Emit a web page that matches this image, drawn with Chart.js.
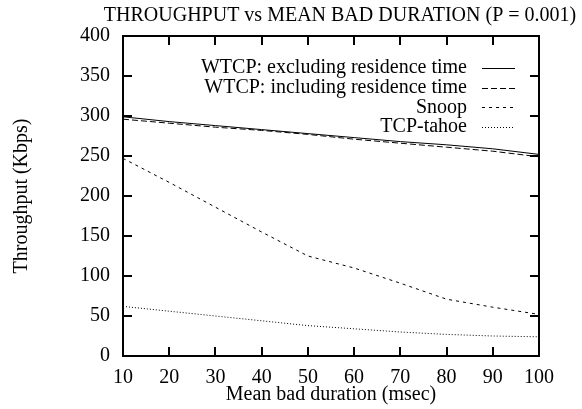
<!DOCTYPE html>
<html lang="en">
<head>
  <meta charset="UTF-8">
  <title>Throughput vs Mean Bad Duration</title>
  <script src="https://cdn.jsdelivr.net/npm/chart.js"></script>
  <style>
    body {
      margin: 0;
      background: #fff;
    }
    #wrap {
      width: 582px;
      height: 409px;
    }
  </style>
</head>
<body>
  <div id="wrap">
    <canvas id="tputChart" width="582" height="409"></canvas>
  </div>

  <script>
    // data
    const durations = [10, 20, 30, 40, 50, 60, 70, 80, 90, 100];
    const wtcpExcl = [299, 293, 288, 283, 278, 273, 268, 264, 259, 252];
    const wtcpIncl = [296, 291, 286, 282, 277, 271, 266, 261, 256, 249];
    const snoop    = [247, 217, 186, 155, 125, 110, 91, 71, 61, 52];
    const tahoe    = [62, 56, 50, 44, 38, 34, 30, 27, 25, 24];
    const seriesNames = [
      'WTCP: excluding residence time',
      'WTCP: including residence time',
      'Snoop',
      'TCP-tahoe'
    ];

    const serif = 'Liberation Serif, Times New Roman, serif';

    function toPoints(ys) {
      return durations.map((d, i) => ({ x: d, y: ys[i] }));
    }

    // gnuplot style frame, inward ticks, title and legend
    const gnuplotLook = {
      id: 'gnuplotLook',
      afterDraw(chart) {
        const c = chart.ctx;
        const a = chart.chartArea;
        const xs = chart.scales.x;
        const ys = chart.scales.y;
        const tl = 9;

        c.save();
        c.strokeStyle = '#000';
        c.lineWidth = 2;
        c.strokeRect(a.left, a.top, a.right - a.left, a.bottom - a.top);

        c.beginPath();
        xs.ticks.forEach(t => {
          const px = Math.round(xs.getPixelForValue(t.value));
          c.moveTo(px, a.bottom); c.lineTo(px, a.bottom - tl);
          c.moveTo(px, a.top); c.lineTo(px, a.top + tl);
        });
        ys.ticks.forEach(t => {
          const py = Math.round(ys.getPixelForValue(t.value));
          c.moveTo(a.left, py); c.lineTo(a.left + tl, py);
          c.moveTo(a.right, py); c.lineTo(a.right - tl, py);
        });
        c.stroke();

        // title
        c.fillStyle = '#000';
        c.font = '20px ' + serif;
        c.textAlign = 'center';
        c.textBaseline = 'middle';
        c.fillText('THROUGHPUT vs MEAN BAD DURATION (P = 0.001)', (a.left + a.right) / 2 + 9, 16);

        // legend
        c.textAlign = 'right';
        c.lineWidth = 1;
        chart.data.datasets.forEach((ds, i) => {
          const y = 68 + i * 19.7;
          c.fillText(ds.label, 467, y);
          c.setLineDash(ds.borderDash || []);
          c.beginPath();
          c.moveTo(482, Math.round(y) + 0.5);
          c.lineTo(515, Math.round(y) + 0.5);
          c.stroke();
        });
        c.restore();
      }
    };

    const ctx = document.getElementById('tputChart').getContext('2d');
    new Chart(ctx, {
      type: 'line',
      data: {
        datasets: [
          { label: seriesNames[0], data: toPoints(wtcpExcl), borderDash: [] },
          { label: seriesNames[1], data: toPoints(wtcpIncl), borderDash: [6, 3] },
          { label: seriesNames[2], data: toPoints(snoop), borderDash: [3, 4] },
          { label: seriesNames[3], data: toPoints(tahoe), borderDash: [1, 2] }
        ].map(ds => Object.assign(ds, {
          borderColor: '#000',
          borderWidth: 1,
          pointRadius: 0,
          tension: 0,
          fill: false
        }))
      },
      options: {
        responsive: false,
        animation: false,
        events: [],
        layout: { padding: { top: 36, right: 43, left: 0, bottom: 0 } },
        plugins: {
          legend: { display: false },
          tooltip: { enabled: false },
          title: { display: false }
        },
        scales: {
          x: {
            type: 'linear',
            min: 10,
            max: 100,
            grid: { display: false, drawTicks: false },
            border: { display: false },
            ticks: {
              stepSize: 10,
              padding: 10,
              color: '#000',
              maxRotation: 0,
              font: { family: serif, size: 20 }
            },
            title: {
              display: true,
              text: 'Mean bad duration (msec)',
              color: '#000',
              padding: { top: 0, bottom: 2 },
              font: { family: serif, size: 20 }
            },
            afterFit(s) { s.height = 53; }
          },
          y: {
            min: 0,
            max: 400,
            grid: { display: false, drawTicks: false },
            border: { display: false },
            ticks: {
              stepSize: 50,
              padding: 13,
              color: '#000',
              font: { family: serif, size: 20 }
            },
            title: {
              display: true,
              text: 'Throughput (Kbps)',
              color: '#000',
              padding: { top: 10, bottom: 0 },
              font: { family: serif, size: 20 }
            },
            afterFit(s) { s.width = 123; }
          }
        }
      },
      plugins: [gnuplotLook]
    });
  </script>
</body>
</html>
